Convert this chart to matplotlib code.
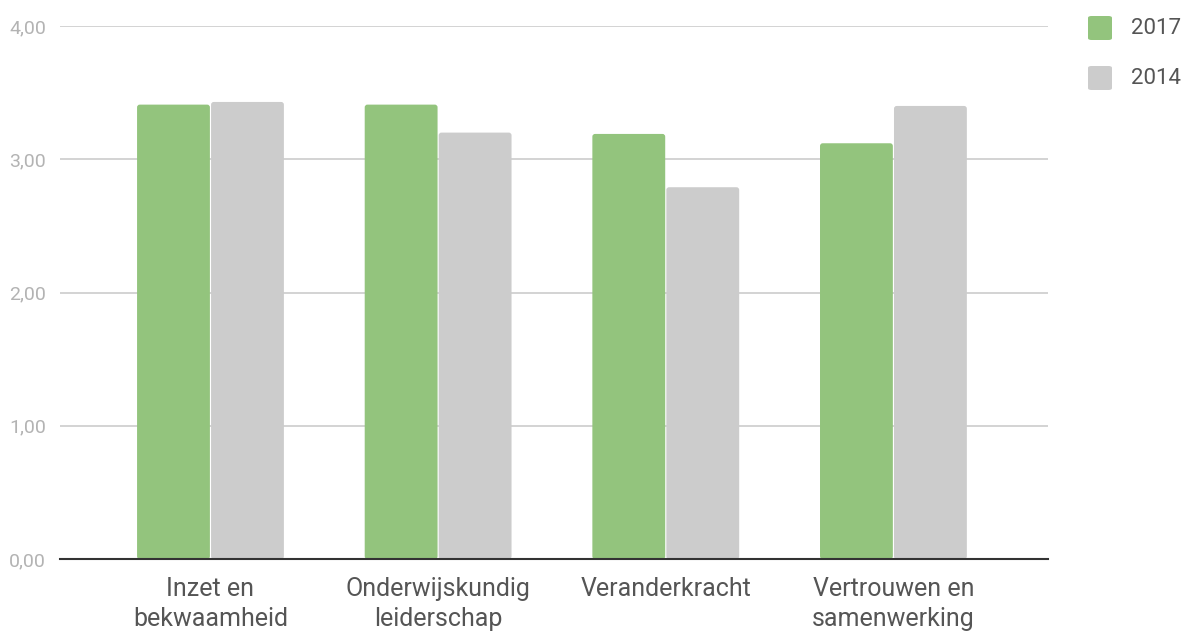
import matplotlib
matplotlib.use("Agg")
import matplotlib.pyplot as plt
import numpy as np
from matplotlib.patches import FancyBboxPatch

plt.rcParams['font.family'] = ['Roboto', 'DejaVu Sans']

categories = ["Inzet en\nbekwaamheid", "Onderwijskundig\nleiderschap",
              "Veranderkracht", "Vertrouwen en\nsamenwerking"]
vals_2017 = [3.41, 3.41, 3.19, 3.12]
vals_2014 = [3.43, 3.20, 2.79, 3.40]
series = ["2017", "2014"]
colors = ["#93c47d", "#cccccc"]
yticks = [0, 1, 2, 3, 4]
ytick_labels = ["0,00", "1,00", "2,00", "3,00", "4,00"]

W, H = 1183, 631
fig = plt.figure(figsize=(W / 100, H / 100), dpi=100)
ax = fig.add_axes([60/W, 1 - 559/H, 988/W, 533/H])

x = np.arange(len(categories))
w = 0.32
gap = 0.005
for i, (vals, col) in enumerate(zip([vals_2017, vals_2014], colors)):
    offs = -(w + gap) / 2 if i == 0 else (w + gap) / 2
    bars = ax.bar(x + offs, vals, w, color=col, label=series[i], zorder=3)
    # swap each plain bar for one with slightly rounded corners
    for b in bars:
        b.set_visible(False)
        p = FancyBboxPatch((b.get_x(), 0), b.get_width(), b.get_height(),
                           boxstyle="round,pad=0,rounding_size=0.012",
                           mutation_aspect=4 / 4.34 * 988 / 533,
                           facecolor=col, edgecolor="none", zorder=3)
        ax.add_patch(p)

ax.set_xlim(-0.661, 3.679)
ax.set_ylim(0, 4)
ax.set_yticks(yticks)
ax.set_yticklabels(ytick_labels)
ax.set_xticks(x)
ax.set_xticklabels(categories, fontsize=18, color="#555555", linespacing=1.3)
ax.tick_params(axis="y", length=0, labelsize=14, labelcolor="#b3b3b3", pad=10)
ax.tick_params(axis="x", length=0, pad=13)
ax.grid(axis="y", color="#cccccc", linewidth=1.2, zorder=0)
for s in ["top", "right", "left"]:
    ax.spines[s].set_visible(False)
ax.spines["bottom"].set_color("#333333")
ax.spines["bottom"].set_linewidth(1.5)
ax.spines["bottom"].set_zorder(4)

# legend drawn by hand in figure pixels
for k, (lab, col) in enumerate(zip(series, colors)):
    yc = 28 + 50 * k
    fig.patches.append(FancyBboxPatch((1088/W, 1 - (yc + 12)/H), 24/W, 24/H,
                                      boxstyle="round,pad=0,rounding_size=0.003",
                                      transform=fig.transFigure,
                                      facecolor=col, edgecolor="none"))
    fig.text(1131/W, 1 - yc/H, lab, fontsize=16, color="#555555",
             va="center", ha="left")

fig.savefig("out.png", dpi=100)
